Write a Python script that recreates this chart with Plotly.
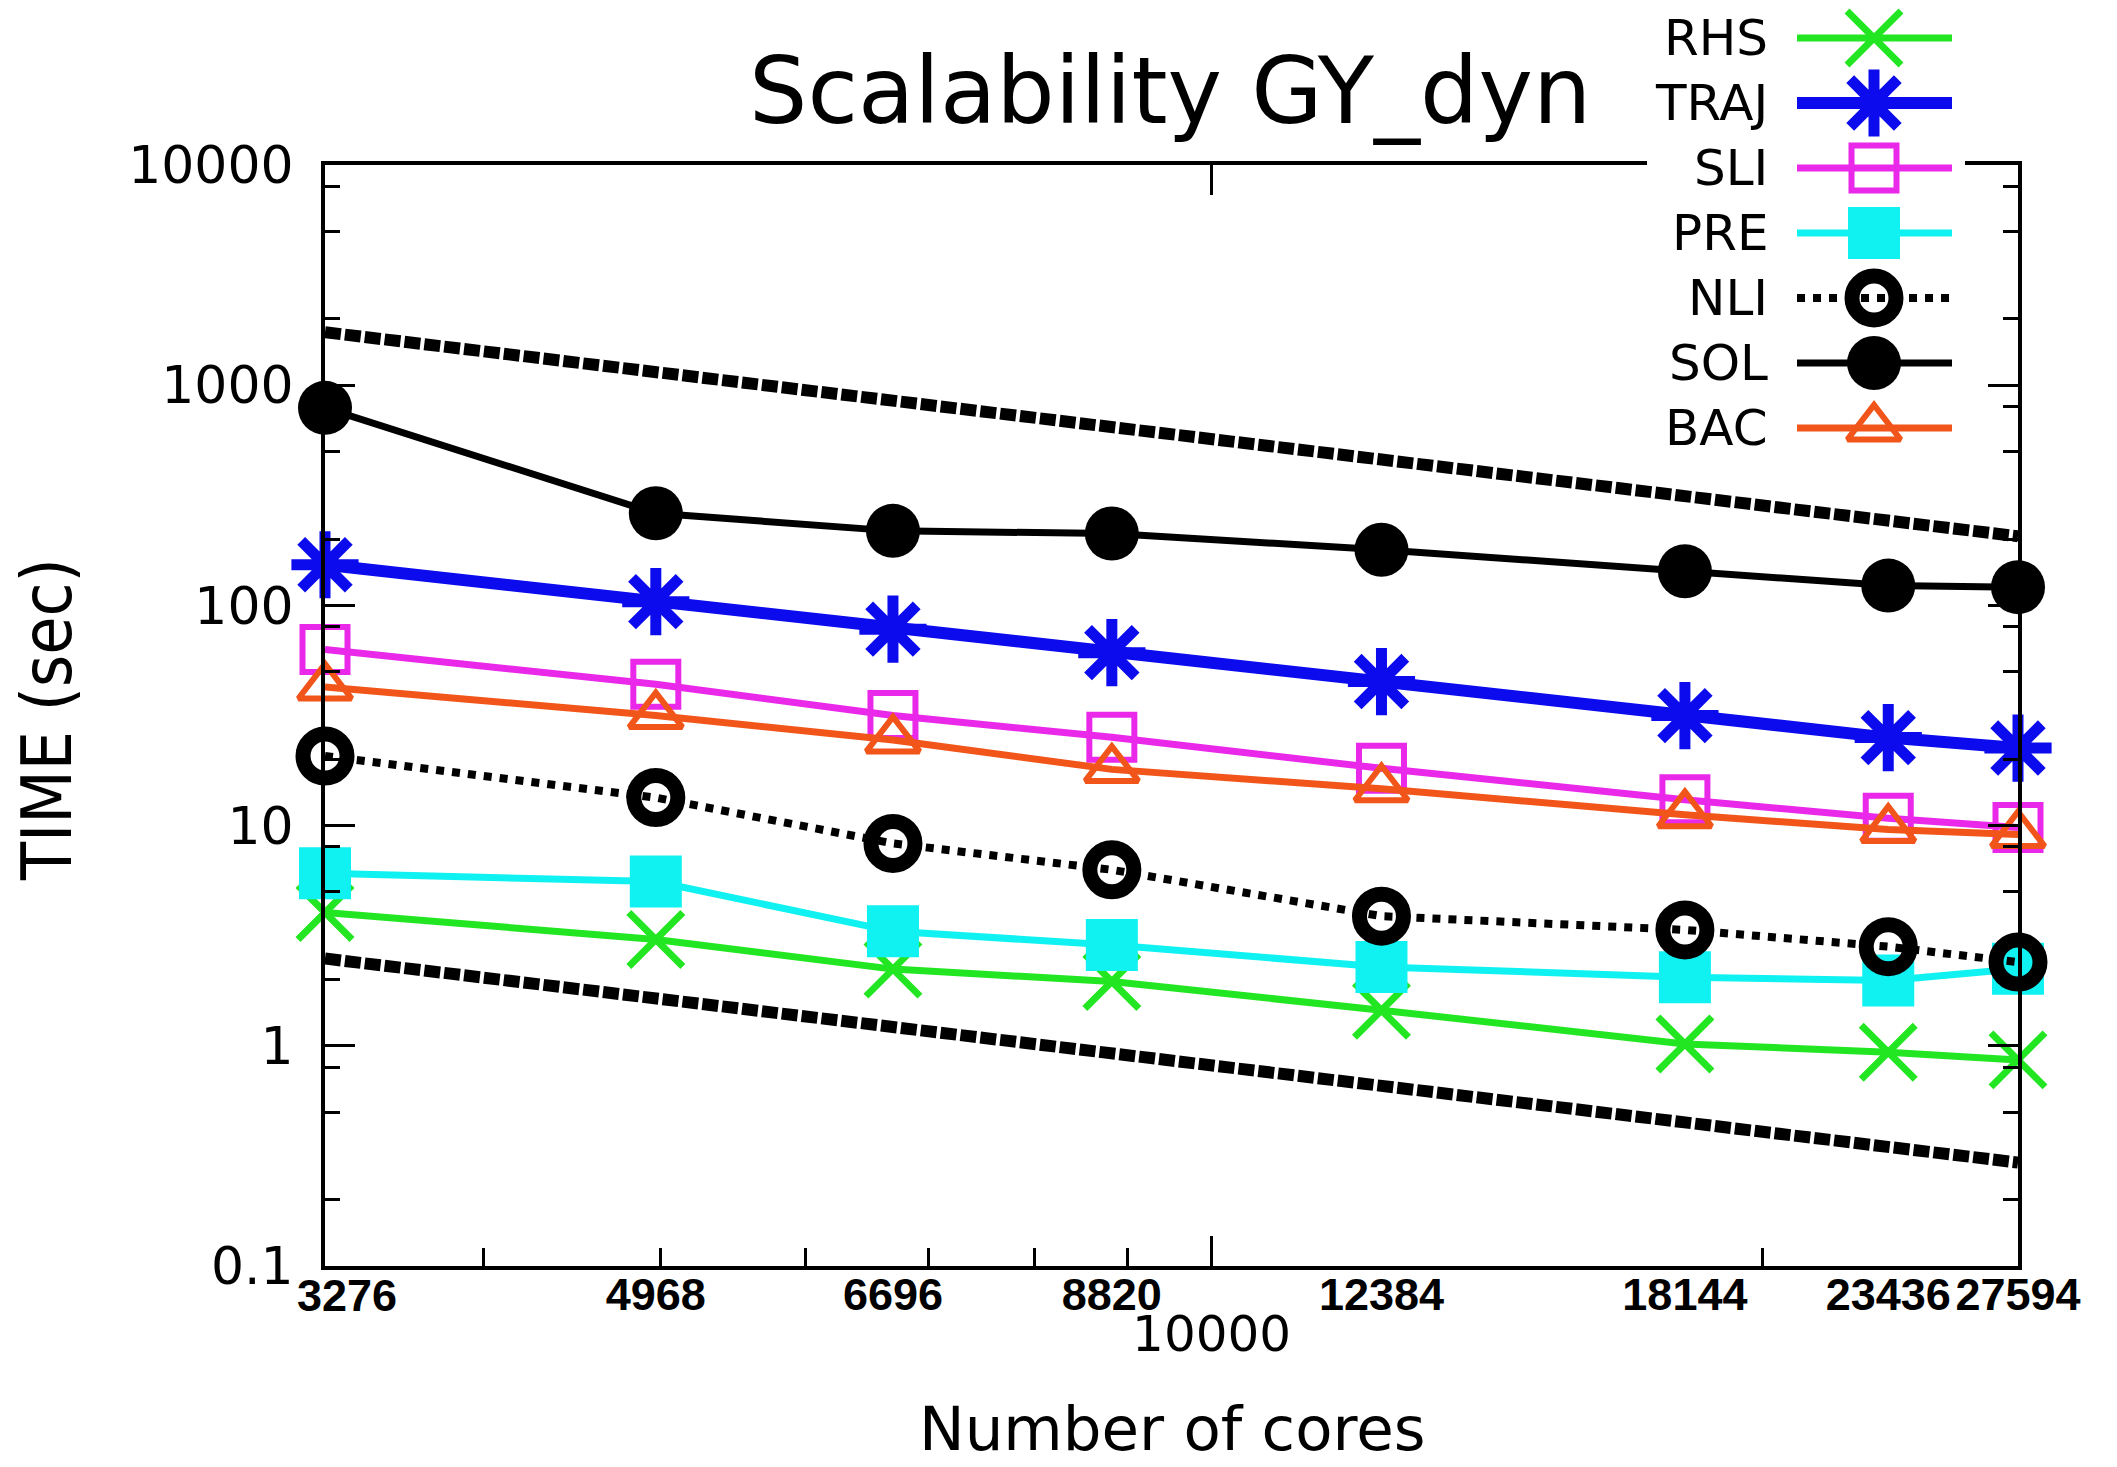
import math
import plotly.graph_objects as go

# ---------------- data ----------------
cores = [3276, 4968, 6696, 8820, 12384, 18144, 23436, 27594]
core_labels = ["3276", "4968", "6696", "8820", "12384", "18144", "23436", "27594"]

rhs = [4.03, 3.04, 2.23, 1.96, 1.45, 1.02, 0.935, 0.863]
traj = [153, 104, 78, 61, 45.1, 31.6, 25.1, 22.5]
sli = [63, 43.8, 31.6, 25.2, 18.2, 13.1, 10.8, 9.8]
pre = [6.07, 5.57, 3.31, 2.87, 2.28, 2.05, 1.98, 2.24]
nli = [20.7, 13.4, 8.3, 6.3, 3.88, 3.36, 2.82, 2.40]
sol = [789, 262, 218, 212, 179, 143, 123, 121]
bac = [42.6, 31.6, 24.5, 18.0, 14.7, 11.2, 9.6, 9.1]

ideal_x = [3276, 27594]
ideal_upper = [1740, 206]
ideal_lower = [2.49, 0.295]

y_ticks = [0.1, 1, 10, 100, 1000, 10000]
y_ticklabels = ["0.1", "1", "10", "100", "1000", "10000"]
y_minor = [0.2, 0.5, 0.8, 2, 5, 8, 20, 50, 80, 200, 500, 800, 2000, 5000, 8000]
x_minor = [4000, 5000, 6000, 7000, 8000, 9000, 20000]
x_major = [10000]
x_major_labels = ["10000"]

# ---------------- styles ----------------
series = [
    dict(name="RHS", y=rhs, color="#22e622", width=7, dash="solid",
         symbol="x-thin-open", size=54, mlw=7),
    dict(name="TRAJ", y=traj, color="#0b0bee", width=12, dash="solid",
         symbol="asterisk-open", size=56, mlw=11),
    dict(name="SLI", y=sli, color="#ea28ea", width=7, dash="solid",
         symbol="square-open", size=45, mlw=6),
    dict(name="PRE", y=pre, color="#10f2f2", width=7, dash="solid",
         symbol="square", size=52, mlw=0),
    dict(name="NLI", y=nli, color="#000000", width=8, dash="dot",
         symbol="circle-open", size=44, mlw=15),
    dict(name="SOL", y=sol, color="#000000", width=7, dash="solid",
         symbol="circle", size=54, mlw=0),
    dict(name="BAC", y=bac, color="#f2551a", width=7, dash="solid",
         symbol="triangle-up-open", size=46, mlw=6),
]

W, H = 2117, 1467
PL, PR, PT, PB = 325, 2018, 165, 1266

fig = go.Figure()

# ideal scaling lines
for yv in (ideal_upper, ideal_lower):
    fig.add_trace(go.Scatter(
        x=ideal_x, y=yv, mode="lines", showlegend=False, hoverinfo="skip",
        line=dict(color="black", width=12, dash="16px,4px"),
        xaxis="x", yaxis="y"))

for s in series:
    fig.add_trace(go.Scatter(
        x=cores, y=s["y"], name=s["name"], mode="lines+markers",
        showlegend=False, cliponaxis=False,
        line=dict(color=s["color"], width=s["width"], dash=s["dash"]),
        marker=dict(symbol=s["symbol"], size=s["size"], color=s["color"],
                    line=dict(color=s["color"], width=s["mlw"])),
        xaxis="x", yaxis="y"))

# invisible helpers so the secondary x axes are rendered
for ax in ("x2", "x4"):
    fig.add_trace(go.Scatter(
        x=[cores[0]], y=[y_ticks[0]], mode="markers", showlegend=False,
        hoverinfo="skip", marker=dict(opacity=0, size=1),
        xaxis=ax, yaxis="y"))

# ---------------- custom legend (gnuplot style: text left, sample right) ----
LG_L, LG_R, LG_T, LG_B = 1647, 1965, 0, 460
row0, rowstep = 38, 65
text_right, samp0, samp1, mark_x = 1770, 1797, 1952, 1874


def lx(px):
    return (px - LG_L) / (LG_R - LG_L)


def ly(py):
    return (LG_B - py) / (LG_B - LG_T)


annotations = []
for i, s in enumerate(series):
    yy = ly(row0 + i * rowstep)
    fig.add_trace(go.Scatter(
        x=[lx(samp0), lx(samp1)], y=[yy, yy], mode="lines", showlegend=False,
        hoverinfo="skip", cliponaxis=False,
        line=dict(color=s["color"], width=s["width"], dash=s["dash"]),
        xaxis="x3", yaxis="y3"))
    fig.add_trace(go.Scatter(
        x=[lx(mark_x)], y=[yy], mode="markers", showlegend=False,
        hoverinfo="skip", cliponaxis=False,
        marker=dict(symbol=s["symbol"], size=s["size"], color=s["color"],
                    line=dict(color=s["color"], width=s["mlw"])),
        xaxis="x3", yaxis="y3"))
    annotations.append(dict(
        x=lx(text_right), y=yy, xref="x3", yref="y3", text=s["name"],
        showarrow=False, xanchor="right", yanchor="middle",
        font=dict(family="DejaVu Sans", size=50, color="black")))

# title and axis titles
annotations.append(dict(
    x=1170 / W, y=1 - 91 / H, xref="paper", yref="paper",
    text="Scalability GY_dyn", showarrow=False, xanchor="center", yanchor="middle",
    font=dict(family="DejaVu Sans", size=92, color="black")))
annotations.append(dict(
    x=1172 / W, y=0.0005, xref="paper", yref="paper",
    text="Number of cores", showarrow=False, xanchor="center", yanchor="bottom",
    font=dict(family="DejaVu Sans", size=61, color="black")))
annotations.append(dict(
    x=47 / W, y=1 - 720 / H, xref="paper", yref="paper",
    text="TIME (sec)", showarrow=False, textangle=-90,
    xanchor="center", yanchor="middle",
    font=dict(family="DejaVu Sans Condensed, DejaVu Sans", size=69, color="black")))

xr = [math.log10(cores[0]), math.log10(cores[-1])]
bold_font = dict(family="Liberation Sans", size=45, color="black")

fig.update_layout(
    width=W, height=H,
    margin=dict(l=0, r=0, t=0, b=0, autoexpand=False),
    paper_bgcolor="white", plot_bgcolor="white",
    showlegend=False,
    annotations=annotations,
    xaxis=dict(
        domain=[PL / W, PR / W], anchor="y", type="log", range=xr,
        tickmode="array", tickvals=cores[1:],
        ticktext=[f"<b>{t}</b>" for t in core_labels[1:]],
        ticks="", showgrid=False, zeroline=False, tickangle=0,
        showline=True, linewidth=4, linecolor="black", mirror=True,
        tickfont=bold_font, ticklabelstandoff=-14, automargin=False,
        minor=dict(tickmode="array", tickvals=x_minor, ticks="inside",
                   ticklen=18, tickwidth=3, tickcolor="black", showgrid=False),
    ),
    xaxis4=dict(
        overlaying="x", anchor="y", side="bottom", type="log", range=xr,
        tickmode="array", tickvals=cores[:1],
        ticktext=[f"<b>{t}</b>" for t in core_labels[:1]],
        ticks="", showline=False, showgrid=False, zeroline=False, tickangle=0,
        tickfont=bold_font, ticklabelstandoff=-1, ticklabelshift=22,
        automargin=False,
    ),
    xaxis2=dict(
        overlaying="x", anchor="y", side="bottom", type="log", range=xr,
        tickmode="array", tickvals=x_major, ticktext=x_major_labels,
        ticks="inside", ticklen=30, tickwidth=3, tickcolor="black",
        mirror="ticks", showline=False, showgrid=False, zeroline=False,
        tickangle=0, automargin=False,
        tickfont=dict(family="DejaVu Sans", size=50, color="black"),
        ticklabelstandoff=34,
    ),
    yaxis=dict(
        domain=[1 - PB / H, 1 - PT / H], anchor="x", type="log", range=[-1, 4],
        tickmode="array", tickvals=y_ticks, ticktext=y_ticklabels,
        ticks="inside", ticklen=30, tickwidth=3, tickcolor="black",
        showline=True, linewidth=4, linecolor="black", mirror="ticks",
        showgrid=False, zeroline=False, automargin=False,
        tickfont=dict(family="DejaVu Sans", size=52, color="black"),
        ticklabelstandoff=17,
        minor=dict(tickmode="array", tickvals=y_minor, ticks="inside",
                   ticklen=15, tickwidth=3, tickcolor="black", showgrid=False),
    ),
    xaxis3=dict(domain=[LG_L / W, LG_R / W], anchor="y3", range=[0, 1],
                visible=False, showgrid=False, zeroline=False),
    yaxis3=dict(domain=[1 - LG_B / H, 1 - LG_T / H], anchor="x3", range=[0, 1],
                visible=False, showgrid=False, zeroline=False),
)

fig.write_html("out.html")
